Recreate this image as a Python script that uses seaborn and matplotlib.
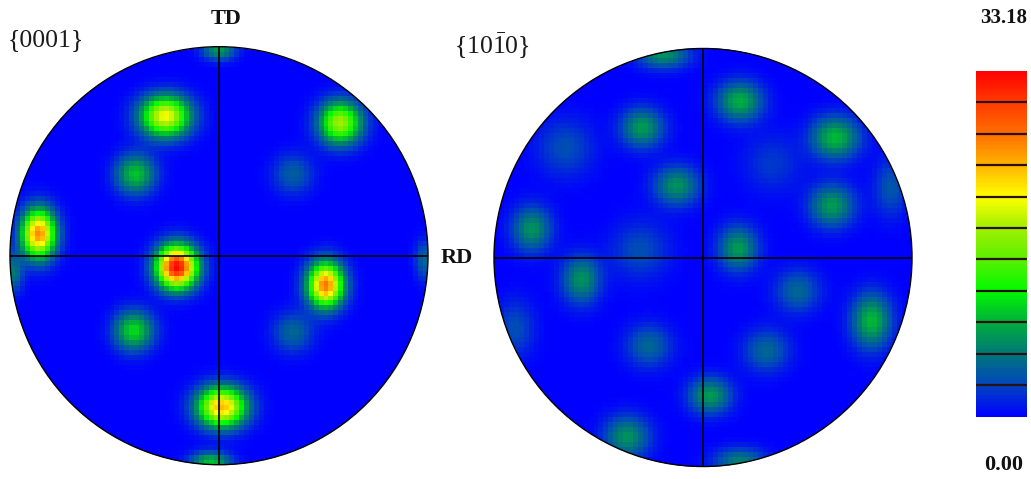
import numpy as np
import pandas as pd
import seaborn as sns
import matplotlib
matplotlib.use("Agg")
import matplotlib.pyplot as plt
from matplotlib.colors import LinearSegmentedColormap
from matplotlib.patches import Circle

# ---------------- data ----------------
vmax_label = "33.18"
vmin_label = "0.00"
VMAX = 33.18
VMIN = 0.0

# {0001} pole figure: pole positions (unit circle, RD = +x, TD = +y), intensities, spreads
L_x = [-0.256, 0.581, -0.398, 0.352, -0.864, -0.201, 0.510, -0.406, 0.352, 0.013, 0.000, -0.040, 0.985, -0.985]
L_y = [0.666, 0.635, 0.390, 0.390, 0.106, -0.052, -0.139, -0.360, -0.368, -0.723, 0.985, -0.985, -0.020, -0.080]
L_v = [21, 18, 10, 4.5, 26, 33, 27, 11, 5, 24, 8, 10, 5, 6]
L_sx = [0.082, 0.072, 0.066, 0.066, 0.056, 0.066, 0.060, 0.066, 0.066, 0.080, 0.055, 0.066, 0.033, 0.033]
L_sy = [0.068, 0.070, 0.066, 0.066, 0.080, 0.070, 0.075, 0.066, 0.066, 0.066, 0.033, 0.033, 0.066, 0.066]

# {10-10} pole figure
R_x = [0.175, 0.634, -0.290, -0.125, 0.618, -0.820, 0.167, -0.583, 0.452, 0.807, -0.259, 0.302, 0.033, -0.363, -0.188, 0.175, -0.660, -0.300, 0.900, 0.330, -0.900]
R_y = [0.746, 0.573, 0.620, 0.344, 0.249, 0.138, 0.044, -0.107, -0.162, -0.304, -0.423, -0.446, -0.660, -0.857, 0.968, -0.975, 0.525, 0.035, 0.335, 0.450, -0.340]
R_v = [9, 9.5, 8, 7.5, 8, 7.5, 8, 7.5, 5, 9.5, 5, 5, 8, 7.5, 7.5, 6.5, 3.5, 3.5, 4, 2.5, 3.5]
R_sx = [0.075, 0.080, 0.070, 0.075, 0.075, 0.065, 0.065, 0.065, 0.075, 0.065, 0.075, 0.075, 0.070, 0.075, 0.085, 0.085, 0.095, 0.095, 0.055, 0.095, 0.065]
R_sy = [0.065, 0.070, 0.065, 0.065, 0.070, 0.075, 0.075, 0.080, 0.070, 0.090, 0.070, 0.070, 0.060, 0.070, 0.045, 0.045, 0.095, 0.095, 0.095, 0.095, 0.095]

panel_titles = ["{0001}", r"$\{10\bar{1}0\}$"]
axis_labels = ["TD", "RD"]
n_levels = 11

# colour scale (blue -> teal -> green -> yellow -> orange -> red)
cmap_colors = [(0, 0, 255), (0, 70, 190), (0, 120, 120), (0, 175, 60), (0, 250, 0),
               (90, 240, 0), (160, 240, 0), (255, 255, 0), (255, 180, 0),
               (255, 110, 0), (255, 60, 0), (255, 0, 0)]

# ---------------- helpers ----------------
N = 84
cmap = LinearSegmentedColormap.from_list(
    "pf", [(i / (len(cmap_colors) - 1), tuple(c / 255 for c in col)) for i, col in enumerate(cmap_colors)])


def density(xs, ys, vs, sxs, sys):
    c = (np.arange(N) + 0.5) / N * 2 - 1
    gx, gy = np.meshgrid(c, -c)
    z = np.zeros((N, N))
    for x, y, v, sx, sy in zip(xs, ys, vs, sxs, sys):
        z += v * np.exp(-((gx - x) ** 2 / (2 * sx ** 2) + (gy - y) ** 2 / (2 * sy ** 2)))
    return pd.DataFrame(np.clip(z, VMIN, VMAX))


W, H = 1031, 479
fig = plt.figure(figsize=(W / 100, H / 100), dpi=100)
sns.set_style("white")
plt.rcParams["mathtext.fontset"] = "custom"
plt.rcParams["mathtext.rm"] = "Liberation Serif"

R = 211.5
centers = [(219, 255.7), (703, 257.5)]
fields = [density(L_x, L_y, L_v, L_sx, L_sy), density(R_x, R_y, R_v, R_sx, R_sy)]

cax = fig.add_axes([976 / W, (H - 416.7) / H, 51 / W, 346 / H])

for i, ((cx, cy), df) in enumerate(zip(centers, fields)):
    ax = fig.add_axes([(cx - R) / W, (H - cy - R) / H, 2 * R / W, 2 * R / H])
    sns.heatmap(df, ax=ax, cmap=cmap, vmin=VMIN, vmax=VMAX, cbar=(i == 0),
                cbar_ax=cax if i == 0 else None, xticklabels=False, yticklabels=False)
    circ = Circle((N / 2, N / 2), N / 2, transform=ax.transData, fill=False, ec="black", lw=1.0)
    ax.collections[0].set_clip_path(circ)
    ax.add_patch(circ)
    ax.plot([0, N], [N / 2, N / 2], color="black", lw=1.2, solid_capstyle="butt")
    ax.plot([N / 2, N / 2], [0, N], color="black", lw=1.2, solid_capstyle="butt")
    ax.set_xlim(-0.5, N + 0.5)
    ax.set_ylim(N + 0.5, -0.5)
    ax.set_aspect("equal")
    ax.axis("off")

cb = fig.axes[1].collections[0].colorbar
cb.set_ticks([])
cb.outline.set_visible(False)
for k in range(1, n_levels):
    cax.axhline(VMIN + (VMAX - VMIN) * k / n_levels, color="#2a1010", lw=1.6)

serif = ["Liberation Serif", "DejaVu Serif"]
fig.text(8 / W, 1 - 40 / H, panel_titles[0], fontsize=18.5, family=serif, ha="left", va="center", color="#1a1a1a")
fig.text(454 / W, 1 - 46 / H, panel_titles[1], fontsize=18.5, family=serif, ha="left", va="center", color="#1a1a1a")
fig.text(226 / W, 1 - 19.5 / H, axis_labels[0], fontsize=16, family=serif, weight="bold", ha="center", va="center", color="#111111")
fig.text(457 / W, 1 - 258 / H, axis_labels[1], fontsize=16, family=serif, weight="bold", ha="center", va="center", color="#111111")
fig.text(1004 / W, 1 - 18 / H, vmax_label, fontsize=15, family=serif, weight="bold", ha="center", va="center", color="#111111")
fig.text(1004 / W, 1 - 465 / H, vmin_label, fontsize=16, family=serif, weight="bold", ha="center", va="center", color="#111111")

fig.savefig("out.png", dpi=100)
